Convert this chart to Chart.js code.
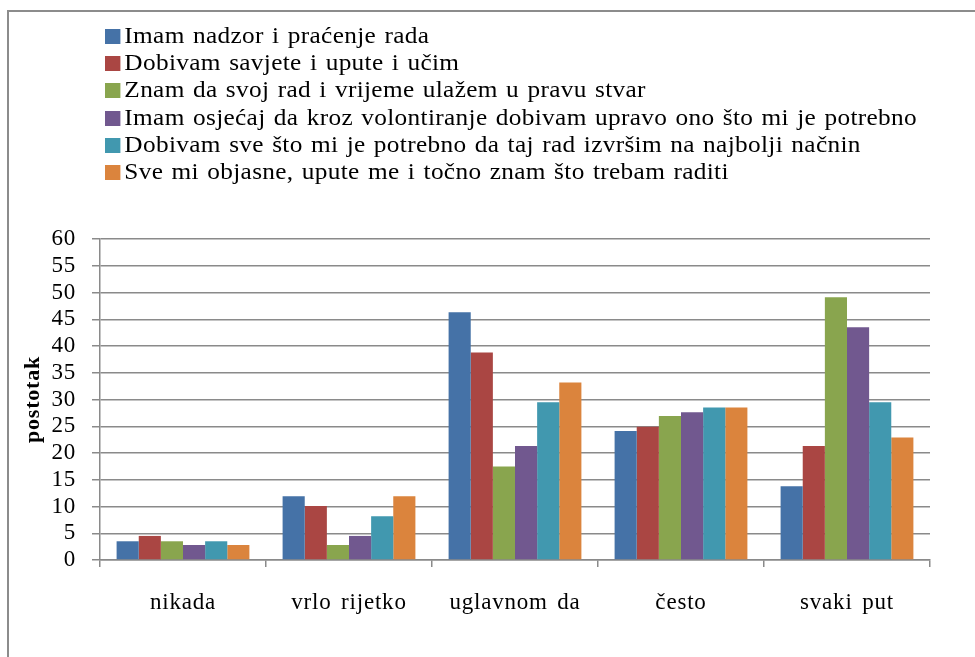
<!DOCTYPE html>
<html>
<head>
<meta charset="utf-8">
<script src="https://cdn.jsdelivr.net/npm/chart.js@4"></script>
<style>
  body { margin: 0; background: #fff; overflow: hidden; }
  #wrap { position: relative; width: 975px; height: 657px; }
  #frame { position: absolute; left: 7px; top: 10px; width: 1000px; height: 700px; border-top: 2px solid #8c8c8c; border-left: 2px solid #8c8c8c; }
  #chart { position: absolute; left: 0; top: 0; }
  #legend { position: absolute; left: 105px; top: 22px; transform: scaleX(1.1); transform-origin: 0 0; font-family: "Liberation Serif", "Times New Roman", serif; font-size: 23px; line-height: 27.2px; letter-spacing: 0.3px; word-spacing: 1.5px; color: #000; }
  #legend div { white-space: nowrap; }
  #legend span { display: inline-block; width: 13.6px; height: 15px; margin-right: 4px; vertical-align: -1px; }
</style>
</head>
<body>
<div id="wrap">
  <div id="frame"></div>
  <canvas id="chart" width="975" height="657"></canvas>
  <div id="legend"></div>
</div>
<script>
const categories = ['nikada', 'vrlo rijetko', 'uglavnom da', 'često', 'svaki put'];

const seriesNames = [
    'Imam nadzor i praćenje rada',
    'Dobivam savjete i upute i učim',
    'Znam da svoj rad i vrijeme ulažem u pravu stvar',
    'Imam osjećaj da kroz volontiranje dobivam upravo ono što mi je potrebno',
    'Dobivam sve što mi je potrebno da taj rad izvršim na najbolji načnin',
    'Sve mi objasne, upute me i točno znam što trebam raditi'
];

const nadzor = [3.5, 11.9, 46.3, 24.1, 13.8];
const savjeti = [4.5, 10.1, 38.8, 24.9, 21.3];
const pravaStvar = [3.5, 2.8, 17.5, 26.9, 49.1];
const potrebno = [2.8, 4.5, 21.3, 27.6, 43.5];
const najbolji = [3.5, 8.2, 29.5, 28.5, 29.5];
const objasne = [2.8, 11.9, 33.2, 28.5, 22.9];

const series = [nadzor, savjeti, pravaStvar, potrebno, najbolji, objasne];
const colors = ['#4572A7', '#AA4643', '#89A54E', '#71588F', '#4198AF', '#DB843D'];

const serif = '"Liberation Serif", "Times New Roman", serif';
const gridColor = '#8a8a8a';

let legend = document.getElementById('legend');
seriesNames.forEach((name, i) => {
    let row = document.createElement('div');
    let box = document.createElement('span');
    box.style.background = colors[i];
    row.appendChild(box);
    row.appendChild(document.createTextNode(name));
    legend.appendChild(row);
});

// the original text is set a little wider than plain Times
function setSpacing(chart) {
    chart.ctx.letterSpacing = '0.8px';
    chart.ctx.wordSpacing = '3px';
}
const spacing = {
    id: 'spacing',
    beforeUpdate: setSpacing,
    beforeDraw: setSpacing
};

new Chart('chart', {
    type: 'bar',
    data: {
        labels: categories,
        datasets: series.map((data, i) => ({
            label: seriesNames[i],
            data: data,
            backgroundColor: colors[i],
            borderWidth: 0,
            categoryPercentage: 0.8,
            barPercentage: 1.0
        }))
    },
    plugins: [spacing],
    options: {
        responsive: false,
        animation: false,
        devicePixelRatio: 1,
        layout: {
            padding: { top: 239, right: 45, bottom: 0, left: 0 }
        },
        plugins: {
            legend: { display: false },
            tooltip: { enabled: false }
        },
        scales: {
            x: {
                offset: true,
                grid: {
                    offset: true,
                    drawOnChartArea: false,
                    drawTicks: true,
                    tickLength: 7,
                    color: gridColor,
                    lineWidth: 1.5
                },
                border: { color: gridColor, width: 1.5 },
                ticks: {
                    color: '#000',
                    padding: 22,
                    maxRotation: 0,
                    font: { family: serif, size: 23 }
                },
                afterFit: scale => { scale.height = 97; }
            },
            y: {
                min: 0,
                max: 60,
                grid: {
                    color: gridColor,
                    lineWidth: 1.5,
                    tickLength: 8
                },
                border: { color: gridColor, width: 1.5 },
                ticks: {
                    stepSize: 5,
                    autoSkip: false,
                    color: '#000',
                    padding: 16,
                    font: { family: serif, size: 23 }
                },
                title: {
                    display: true,
                    text: 'postotak',
                    color: '#000',
                    padding: { top: 20, bottom: 0 },
                    font: { family: serif, size: 22, weight: 'bold' }
                },
                afterFit: scale => { scale.width = 100; }
            }
        }
    }
});
</script>
</body>
</html>
